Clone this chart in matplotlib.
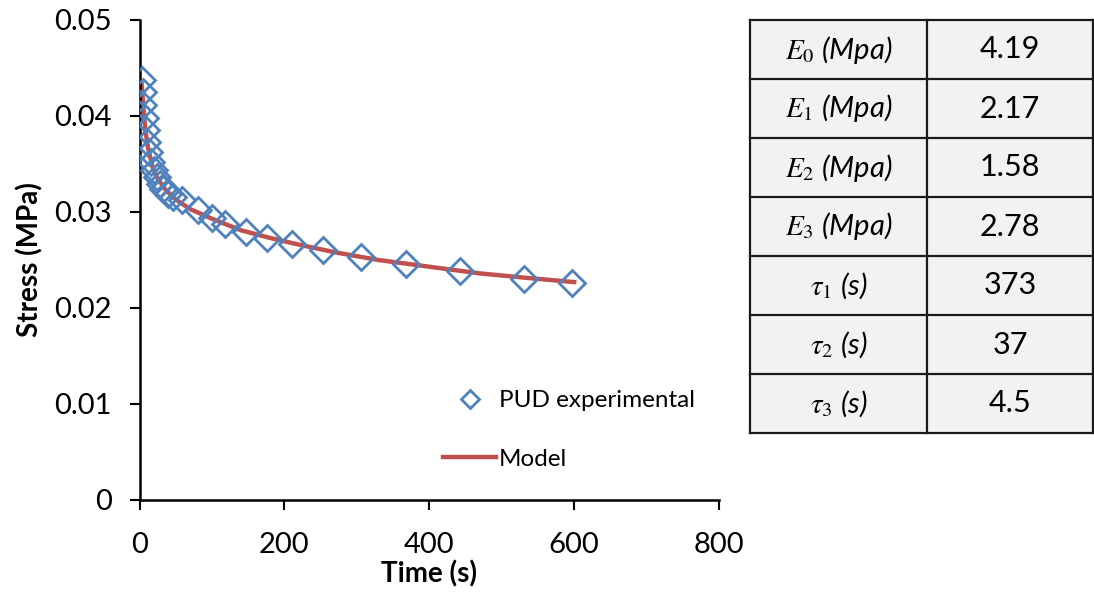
import matplotlib.pyplot as plt

plt.rcParams['font.family'] = ['Lato', 'DejaVu Sans']
plt.rcParams['mathtext.fontset'] = 'stix'

# experimental relaxation data
time_exp = [3, 4.5, 5.5, 7, 8.5, 10.5, 13, 16, 19.5, 23.5, 28, 33, 39.5, 46.5,
            58, 81, 100, 118, 147, 176, 211, 254, 306, 368, 442, 531, 597]
stress_exp = [0.0438, 0.0425, 0.0411, 0.0398, 0.0385, 0.0373, 0.0362, 0.0352,
              0.0344, 0.0336, 0.0329, 0.0324, 0.0319, 0.0316, 0.03125,
              0.0302, 0.0294, 0.0288, 0.0279, 0.0273, 0.0267, 0.0260, 0.0253,
              0.0246, 0.0239, 0.0230, 0.0226]

# model curve
time_model = [3, 5, 8, 12, 18, 25, 35, 50, 70, 100, 140, 180, 220, 270, 330,
              400, 470, 540, 600]
stress_model = [0.0433, 0.0412, 0.0386, 0.0366, 0.0347, 0.0335, 0.0324, 0.0313,
                0.0303, 0.0293, 0.0281, 0.0273, 0.0266, 0.0258, 0.0250,
                0.0243, 0.0236, 0.0231, 0.0227]

# fitted parameters
param_labels = [r'$E_0$ (Mpa)', r'$E_1$ (Mpa)', r'$E_2$ (Mpa)', r'$E_3$ (Mpa)',
                r'$\tau_1$ (s)', r'$\tau_2$ (s)', r'$\tau_3$ (s)']
param_values = ['4.19', '2.17', '1.58', '2.78', '373', '37', '4.5']

xticks = [0, 200, 400, 600, 800]
yticks = [0, 0.01, 0.02, 0.03, 0.04, 0.05]
ytick_labels = ['0', '0.01', '0.02', '0.03', '0.04', '0.05']

fig = plt.figure(figsize=(10.94, 5.94), dpi=100)
ax = fig.add_axes([139.5 / 1094, 94 / 594, 579.5 / 1094, 480 / 594])

ax.plot(time_model, stress_model, color='#c0504d', lw=3.2, label='Model', zorder=2)
ax.plot(time_exp, stress_exp, ls='none', marker='D', ms=13, mfc='none',
        mec='#4f81bd', mew=2, label='PUD experimental', zorder=3)

ax.set_xlim(0, 800)
ax.set_ylim(0, 0.05)
ax.set_xticks(xticks)
ax.set_yticks(yticks)
ax.set_yticklabels(ytick_labels)
ax.tick_params(labelsize=21, width=1.5, length=7, direction='out')
ax.tick_params(axis='x', pad=16)
ax.tick_params(axis='y', pad=13)
for s in ['top', 'right']:
    ax.spines[s].set_visible(False)
for s in ['left', 'bottom']:
    ax.spines[s].set_linewidth(1.8)
ax.set_xlabel('Time (s)', fontsize=20, fontweight='bold', labelpad=2)
ax.set_ylabel('Stress (MPa)', fontsize=20, fontweight='bold', labelpad=8)

h, l = ax.get_legend_handles_labels()
leg = ax.legend(h[::-1], l[::-1], loc='lower left', bbox_to_anchor=(0.486, 0.017),
                frameon=False, fontsize=17.5, handlelength=2.2, handletextpad=0.1,
                labelspacing=1.55, markerscale=0.7)

# parameter table
tax = fig.add_axes([750 / 1094, 161 / 594, 343 / 1094, 413 / 594])
tax.set_xlim(0, 1)
tax.set_ylim(0, len(param_labels))
tax.axis('off')
split = 177 / 343
n = len(param_labels)
tax.add_patch(plt.Rectangle((0, 0), 1, n, facecolor='#f2f2f2', edgecolor='none'))
for i in range(n + 1):
    tax.plot([0, 1], [i, i], color='#1a1a1a', lw=1.6, clip_on=False)
for x in [0, split, 1]:
    tax.plot([x, x], [0, n], color='#1a1a1a', lw=1.6, clip_on=False)
for i, (lab, val) in enumerate(zip(param_labels, param_values)):
    y = n - i - 0.5
    tax.text(split / 2, y, lab, ha='center', va='center', fontsize=21, style='italic')
    tax.text((split + 1) / 2, y, val, ha='center', va='center', fontsize=22)

fig.savefig('out.png', dpi=100)
